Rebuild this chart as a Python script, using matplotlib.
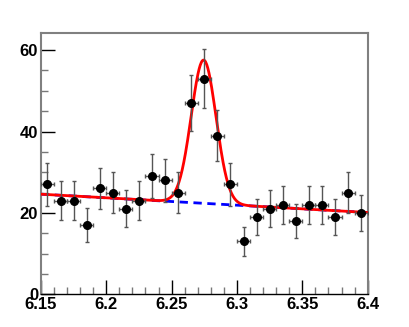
import numpy as np
import matplotlib.pyplot as plt

# Daten (Bins der Breite 0.01)
x = np.arange(6.155, 6.40, 0.01)
counts = np.array([27, 23, 23, 17, 26, 25, 21, 23, 29, 28,
                   25, 47, 53, 39, 27, 13, 19, 21, 22, 18,
                   22, 22, 19, 25, 20])
yerr = np.sqrt(counts)
xerr = 0.005

# Fit-Parameter: linearer Untergrund + Gauss
bg_left, bg_right = 24.6, 20.1
peak_mu, peak_sigma, peak_amp = 6.2745, 0.0095, 35.2

def background(t):
    return bg_left + (bg_right - bg_left) * (t - 6.15) / 0.25

xf = np.linspace(6.15, 6.4, 600)
fit = background(xf) + peak_amp * np.exp(-(xf - peak_mu)**2 / (2 * peak_sigma**2))

fig = plt.figure(figsize=(4.09, 3.27), dpi=100)
ax = fig.add_axes([0.1, 0.1, 0.799, 0.799])

ax.errorbar(x, counts, yerr=yerr, xerr=xerr, fmt='o', color='black',
            ecolor='#555555', elinewidth=1, capsize=1.5, capthick=1,
            markersize=5.5, zorder=4)
ax.plot(xf, background(xf), color='blue', linestyle=(0, (3, 2)), linewidth=2, zorder=2)
ax.plot(xf, fit, color='red', linewidth=2, zorder=3)

ax.set_xlim(6.15, 6.4)
ax.set_ylim(0, 64.2)
ax.set_xticks([6.15, 6.2, 6.25, 6.3, 6.35, 6.4])
ax.set_xticklabels(['6.15', '6.2', '6.25', '6.3', '6.35', '6.4'])
ax.set_xticks(np.arange(6.15, 6.401, 0.01), minor=True)
ax.set_yticks([0, 20, 40, 60])
ax.set_yticks(np.arange(0, 64, 5), minor=True)

for lab in ax.get_xticklabels() + ax.get_yticklabels():
    lab.set_fontfamily('Liberation Sans')
    lab.set_fontweight('bold')
    lab.set_fontsize(12)

ax.tick_params(axis='both', which='major', direction='in', length=10, width=1, color='black')
ax.tick_params(axis='both', which='minor', direction='in', length=5, width=1, color='#777777')
ax.tick_params(axis='x', pad=2)
ax.tick_params(axis='y', pad=2)

for s in ['top', 'right', 'left']:
    ax.spines[s].set_color('#808080')
    ax.spines[s].set_linewidth(1.5)
ax.spines['bottom'].set_color('black')
ax.spines['bottom'].set_linewidth(1)

fig.savefig('out.png', dpi=100)
